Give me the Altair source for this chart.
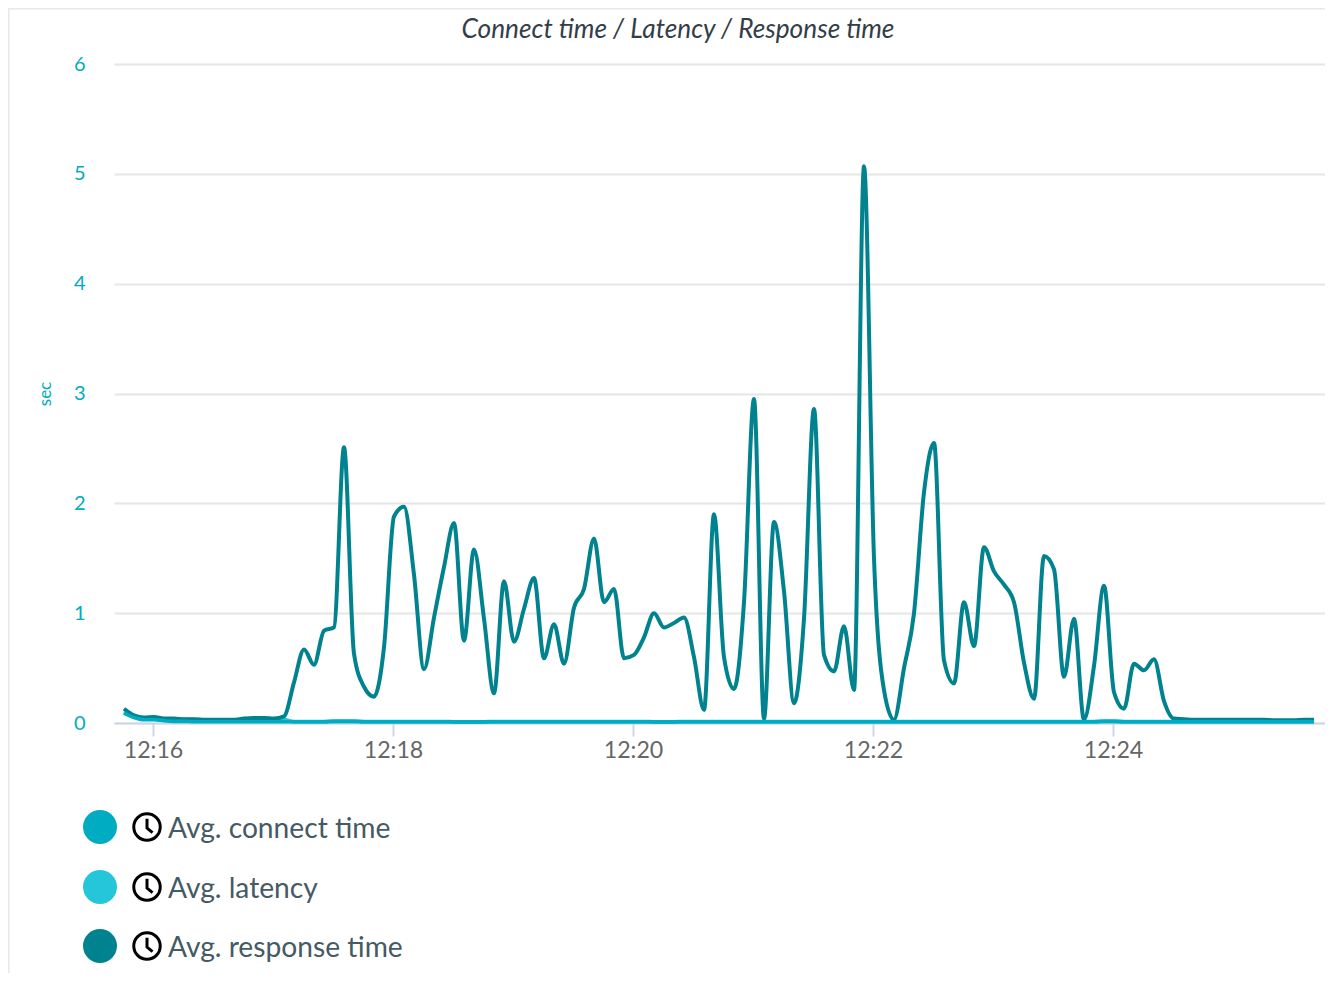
import altair as alt
import pandas as pd

start = pd.Timestamp("2024-01-01 12:15:45.500")
response = [
 .13,.07,.05,.055,.04,.04,.035,.035,.03,.03,.03,.03,.04,.045,.045,.04,.06,.37,.67,.53,
 .84,.87,2.51,.63,.33,.24,.69,1.88,1.97,1.35,.49,.96,1.42,1.82,.75,1.58,.95,.27,1.29,.74,
 1.04,1.32,.59,.9,.54,1.05,1.22,1.68,1.1,1.22,.59,.62,.78,1.0,.87,.91,.96,.6,.12,1.9,
 .6,.31,1.1,2.95,.04,1.83,1.2,.18,.95,2.86,.62,.47,.88,.3,5.07,1.5,.3,.03,.5,1.0,
 2.1,2.55,.57,.36,1.1,.7,1.6,1.38,1.26,1.1,.55,.22,1.52,1.4,.42,.95,.03,.52,1.25,.28,
 .13,.54,.48,.58,.2,.04,.035,.03,.03,.03,.03,.03,.03,.03,.03,.025,.025,.025,.03,.03]
connect = [.09,.05,.03,.03,.02,.015,.015,.012,.012,.012,.012,.012,.012,.012,.012,.012,.012,.012,.012,.012,
 .012,.015,.015,.015,.012,.012,.012,.012,.012,.012,.012,.012,.012,.01,.01,.01,.01,.012,.012,.012,
 .012,.012,.012,.012,.012,.012,.012,.012,.012,.012,.012,.012,.012,.01,.01,.01,.012,.012,.012,.012,
 .012,.012,.012,.012,.012,.012,.012,.012,.012,.012,.012,.012,.012,.012,.012,.012,.012,.012,.012,.012,
 .012,.012,.012,.012,.012,.012,.012,.012,.012,.012,.012,.012,.012,.012,.012,.012,.012,.012,.015,.015,
 .012,.012,.012,.012,.012,.012,.012,.012,.012,.012,.012,.012,.012,.012,.012,.012,.012,.012,.012,.012]
latency = [.1,.06,.04,.045,.035,.035,.03,.03,.028,.028,.028,.028,.035,.04,.04,.035,.03,.012,.012,.012] + connect[20:]
legend_names = ["Avg. connect time", "Avg. latency", "Avg. response time"]
colors = ["#00acc1", "#26c6da", "#00838f"]
tick_minutes = [16, 18, 20, 22, 24]

times = [start + pd.Timedelta(seconds=5 * i) for i in range(len(response))]
df = pd.DataFrame({"t": [t.isoformat() for t in times], "connect": connect, "latency": latency, "response": response})

x = alt.X("t:T", title=None,
          scale=alt.Scale(domain=[alt.DateTime(year=2024, month=1, date=1, hours=12, minutes=15, seconds=40, milliseconds=500),
                                  alt.DateTime(year=2024, month=1, date=1, hours=12, minutes=25, seconds=46)]),
          axis=alt.Axis(format="%H:%M",
                        values=[alt.DateTime(year=2024, month=1, date=1, hours=12, minutes=m) for m in tick_minutes],
                        grid=False,
                        domainColor="#ccd6eb", domainWidth=2, tickColor="#ccd6eb", tickWidth=2, tickSize=13,
                        labelColor="#666666", labelFontSize=23.2, labelFont="Lato", labelPadding=3,
                        labelFlush=False))
y_axis = alt.Axis(values=[0, 1, 2, 3, 4, 5, 6], grid=True, gridColor="#e6e6e6", gridWidth=2, domain=False,
                  ticks=False, labelColor="#00acc1", labelFontSize=20, labelFont="Lato", labelPadding=29,
                  titleColor="#00acc1", titleFontSize=17, titleFont="Lato", titleFontWeight="normal",
                  titlePadding=19)

base = alt.Chart(df)
line = lambda f, c, w: base.mark_line(interpolate="monotone", color=c, strokeWidth=w, clip=False).encode(
    x=x, y=alt.Y(f"{f}:Q", title="sec", scale=alt.Scale(domain=[0, 6], nice=False), axis=y_axis))

layers = [line("latency", colors[1], 4), line("response", colors[2], 4), line("connect", colors[0], 3.6)]

# frame
layers.append(alt.Chart(pd.DataFrame({"a": [0]})).mark_rule(color="#e8e8e8", strokeWidth=2).encode(
    x=alt.value(-105.5), y=alt.value(-56), y2=alt.value(925)))
layers.append(alt.Chart(pd.DataFrame({"a": [0]})).mark_rule(color="#e8e8e8", strokeWidth=2).encode(
    x=alt.value(-105.5), x2=alt.value(1211), y=alt.value(-55.5)))

# title
layers.append(alt.Chart(pd.DataFrame({"s": ["Connect time / Latency / Response time"]})).mark_text(
    font="Lato", fontSize=26.25, fontStyle="italic", color="#333e48", align="center", baseline="middle").encode(
    x=alt.value(564), y=alt.value(-34), text="s:N"))

# legend
ys = [763, 823, 882]
for n, c, yy in zip(legend_names, colors, ys):
    d = pd.DataFrame({"name": [n]})
    layers.append(alt.Chart(d).mark_point(filled=True, color=c, size=1156, opacity=1).encode(
        x=alt.value(-14), y=alt.value(yy)))
    layers.append(alt.Chart(d).mark_point(
        shape="M -1 0 A 1 1 0 1 1 1 0 A 1 1 0 1 1 -1 0 Z M 0 -0.62 L 0 0.08 L 0.42 0.42",
        filled=False, color="#000000", size=700, strokeWidth=3, opacity=1).encode(
        x=alt.value(33), y=alt.value(yy)))
    layers.append(alt.Chart(d).mark_text(font="Lato", fontSize=28.2, color="#455a64", align="left", baseline="middle").encode(
        x=alt.value(54), y=alt.value(yy + 3), text="name:N"))

chart = alt.layer(*layers).properties(
    width=1211, height=659,
    padding={"left": 106, "top": 56, "right": 0, "bottom": 250},
    autosize=alt.AutoSizeParams(type="none"),
).configure_view(stroke=None)

chart.save("out.html", embed_options={"renderer": "svg", "actions": False})
